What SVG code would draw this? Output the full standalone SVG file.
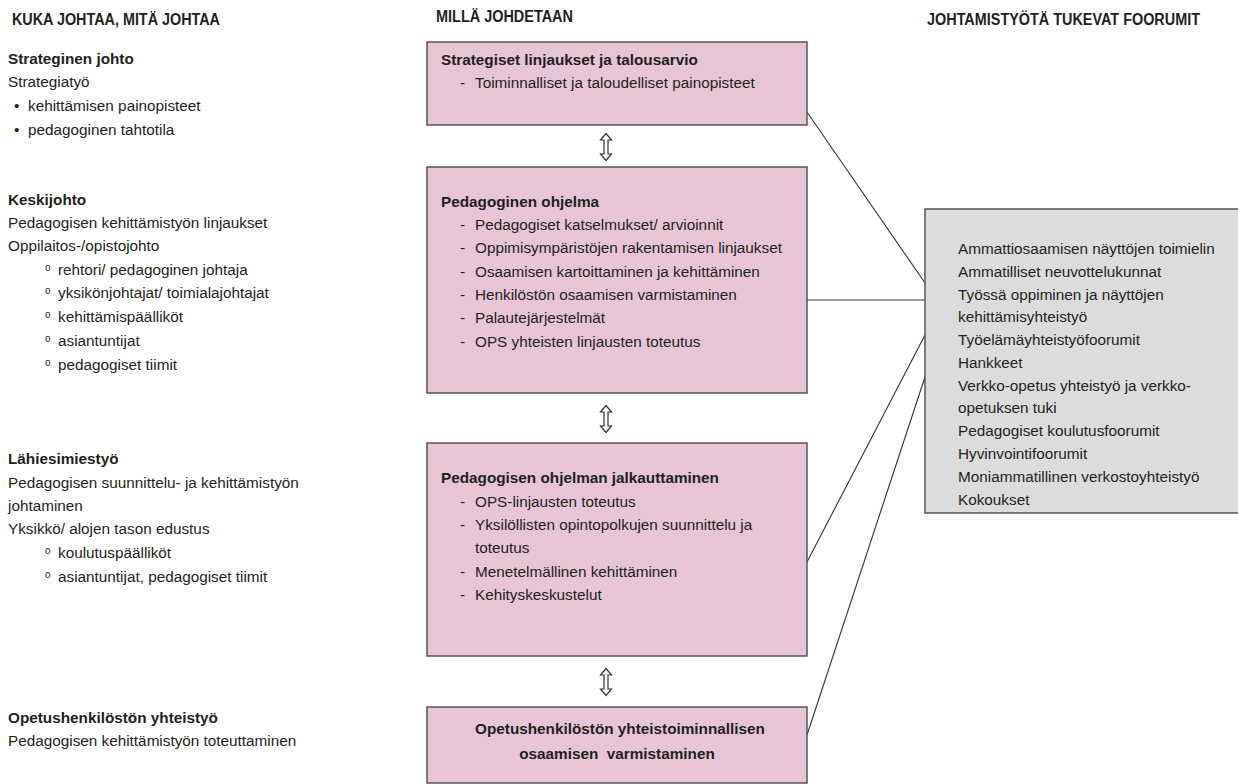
<svg xmlns="http://www.w3.org/2000/svg" width="1238" height="784" viewBox="0 0 1238 784">
<style>
text{font-family:"Liberation Sans",Arial,sans-serif;font-size:15.3px;fill:#231f20}
.h{font-weight:bold;font-size:16px}
.b{font-weight:bold}
.o{font-size:10px}
.pink{fill:#e7c5d7;stroke:#555;stroke-width:1.5}
.gray{fill:#dcdcdc;stroke:#555;stroke-width:1.5}
.conn line{stroke:#333;stroke-width:1.1}
.arr{fill:#fff;stroke:#333;stroke-width:1.2}
</style>
<defs>
<path id="dbl" class="arr" d="M0,-13.5 L5.5,-7 L2,-7 L2,7 L5.5,7 L0,13.5 L-5.5,7 L-2,7 L-2,-7 L-5.5,-7 Z"/>
</defs>
<rect width="1238" height="784" fill="#fff"/>

<g id="headers">
<text class="h" x="12" y="25" textLength="208" lengthAdjust="spacingAndGlyphs">KUKA JOHTAA, MITÄ JOHTAA</text>
<text class="h" x="436" y="22" textLength="137" lengthAdjust="spacingAndGlyphs">MILLÄ JOHDETAAN</text>
<text class="h" x="927" y="25" textLength="273" lengthAdjust="spacingAndGlyphs">JOHTAMISTYÖTÄ TUKEVAT FOORUMIT</text>
</g>

<g id="left-strateginen">
<text class="b" x="8" y="64">Strateginen johto</text>
<text x="8" y="87">Strategiatyö</text>
<text x="14" y="111">•</text><text x="28" y="111">kehittämisen painopisteet</text>
<text x="14" y="135">•</text><text x="28" y="135">pedagoginen tahtotila</text>
</g>

<g id="left-keskijohto">
<text class="b" x="8" y="205">Keskijohto</text>
<text x="8" y="228">Pedagogisen kehittämistyön linjaukset</text>
<text x="8" y="251">Oppilaitos-/opistojohto</text>
<text class="o" x="45" y="271">o</text><text x="58" y="275">rehtori/ pedagoginen johtaja</text>
<text class="o" x="45" y="294">o</text><text x="58" y="298">yksikönjohtajat/ toimialajohtajat</text>
<text class="o" x="45" y="318">o</text><text x="58" y="322">kehittämispäälliköt</text>
<text class="o" x="45" y="342">o</text><text x="58" y="346">asiantuntijat</text>
<text class="o" x="45" y="366">o</text><text x="58" y="370">pedagogiset tiimit</text>
</g>

<g id="left-lahiesimiestyo">
<text class="b" x="8" y="464">Lähiesimiestyö</text>
<text x="8" y="488">Pedagogisen suunnittelu- ja kehittämistyön</text>
<text x="8" y="511">johtaminen</text>
<text x="8" y="534">Yksikkö/ alojen tason edustus</text>
<text class="o" x="45" y="554">o</text><text x="58" y="558">koulutuspäälliköt</text>
<text class="o" x="45" y="578">o</text><text x="58" y="582">asiantuntijat, pedagogiset tiimit</text>
</g>

<g id="left-opetushenkilosto">
<text class="b" x="8" y="723">Opetushenkilöstön yhteistyö</text>
<text x="8" y="746">Pedagogisen kehittämistyön toteuttaminen</text>
</g>

<g id="connectors" class="conn">
<line x1="807" y1="112" x2="925" y2="283"/>
<line x1="807" y1="300" x2="925" y2="300"/>
<line x1="807" y1="562" x2="925" y2="335"/>
<line x1="807" y1="735" x2="925" y2="377"/>
<use href="#dbl" x="606" y="147"/>
<use href="#dbl" x="606" y="419"/>
<use href="#dbl" x="606" y="682"/>
</g>

<g id="box-strategiset">
<rect class="pink" x="427" y="42" width="380" height="83"/>
<text class="b" x="441" y="65">Strategiset linjaukset ja talousarvio</text>
<text x="460" y="88">-</text><text x="475" y="88">Toiminnalliset ja taloudelliset painopisteet</text>
</g>

<g id="box-pedagoginen-ohjelma">
<rect class="pink" x="427" y="167" width="380" height="226"/>
<text class="b" x="441" y="207">Pedagoginen ohjelma</text>
<text x="460" y="230">-</text><text x="475" y="230">Pedagogiset katselmukset/ arvioinnit</text>
<text x="460" y="253">-</text><text x="475" y="253">Oppimisympäristöjen rakentamisen linjaukset</text>
<text x="460" y="277">-</text><text x="475" y="277">Osaamisen kartoittaminen ja kehittäminen</text>
<text x="460" y="300">-</text><text x="475" y="300">Henkilöstön osaamisen varmistaminen</text>
<text x="460" y="323">-</text><text x="475" y="323">Palautejärjestelmät</text>
<text x="460" y="347">-</text><text x="475" y="347">OPS yhteisten linjausten toteutus</text>
</g>

<g id="box-jalkauttaminen">
<rect class="pink" x="427" y="443" width="380" height="213"/>
<text class="b" x="441" y="483">Pedagogisen ohjelman jalkauttaminen</text>
<text x="460" y="507">-</text><text x="475" y="507">OPS-linjausten toteutus</text>
<text x="460" y="530">-</text><text x="475" y="530">Yksilöllisten opintopolkujen suunnittelu ja</text>
<text x="475" y="553">toteutus</text>
<text x="460" y="577">-</text><text x="475" y="577">Menetelmällinen kehittäminen</text>
<text x="460" y="600">-</text><text x="475" y="600">Kehityskeskustelut</text>
</g>

<g id="box-yhteistoiminnallinen">
<rect class="pink" x="427" y="707" width="380" height="76"/>
<text class="b" x="620" y="734" text-anchor="middle">Opetushenkilöstön yhteistoiminnallisen</text>
<text class="b" x="617" y="759" text-anchor="middle" xml:space="preserve">osaamisen  varmistaminen</text>
</g>

<g id="box-foorumit">
<rect class="gray" x="925" y="209" width="320" height="304"/>
<text x="958" y="254">Ammattiosaamisen näyttöjen toimielin</text>
<text x="958" y="277">Ammatilliset neuvottelukunnat</text>
<text x="958" y="300">Työssä oppiminen ja näyttöjen</text>
<text x="958" y="322">kehittämisyhteistyö</text>
<text x="958" y="345">Työelämäyhteistyöfoorumit</text>
<text x="958" y="368">Hankkeet</text>
<text x="958" y="391">Verkko-opetus yhteistyö ja verkko-</text>
<text x="958" y="413">opetuksen tuki</text>
<text x="958" y="436">Pedagogiset koulutusfoorumit</text>
<text x="958" y="459">Hyvinvointifoorumit</text>
<text x="958" y="482">Moniammatillinen verkostoyhteistyö</text>
<text x="958" y="505">Kokoukset</text>
</g>
</svg>
